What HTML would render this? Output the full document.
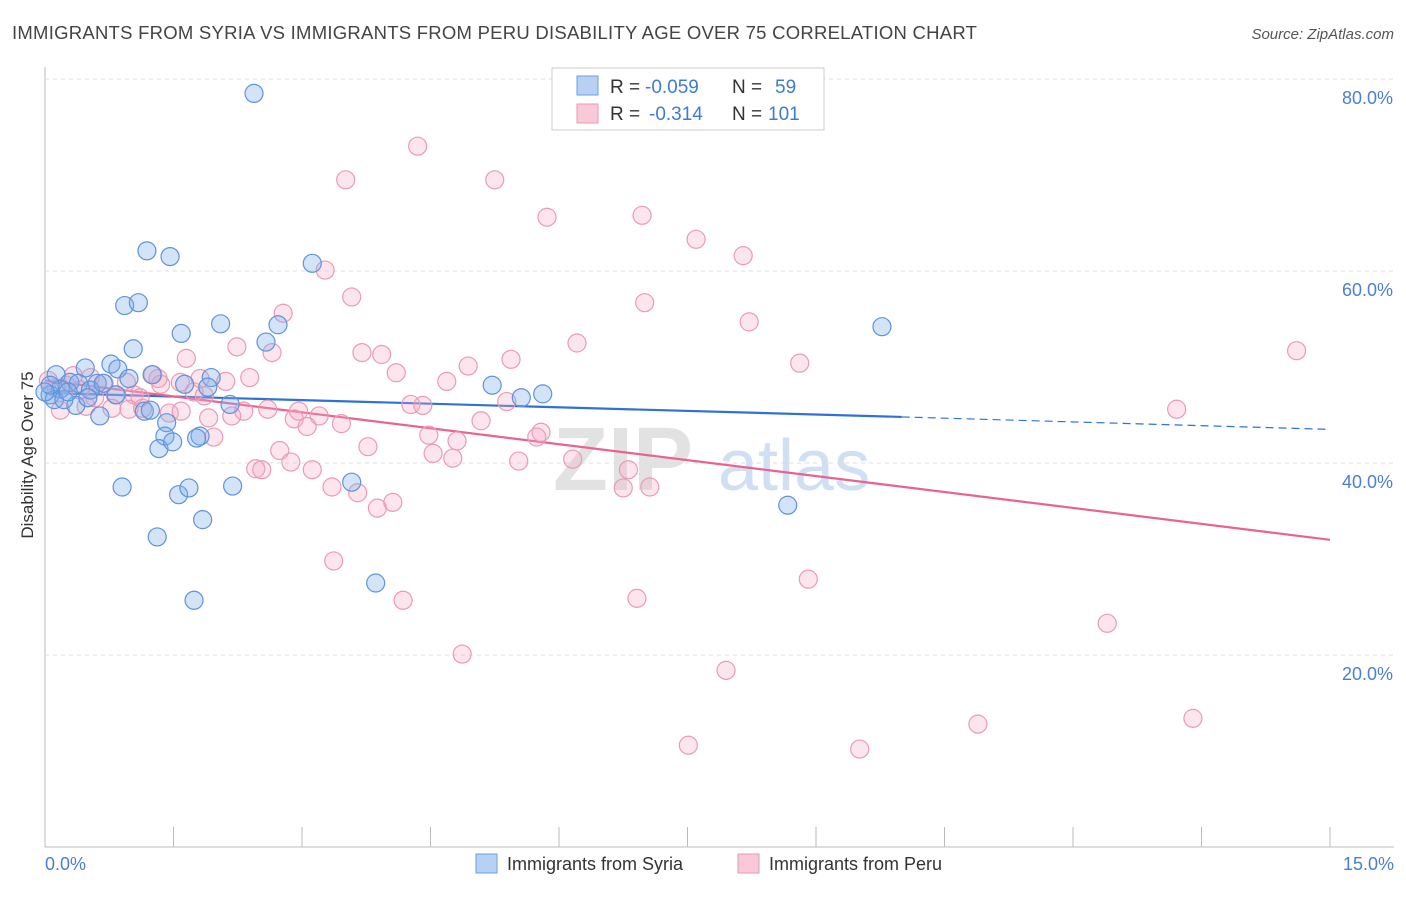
<!DOCTYPE html>
<html><head><meta charset="utf-8"><style>
body{margin:0;background:#fff;font-family:"Liberation Sans",sans-serif}
svg text{font-family:"Liberation Sans",sans-serif}
</style></head><body>
<svg id="chart" width="1406" height="892" xmlns="http://www.w3.org/2000/svg">
<text x="12" y="39" font-size="18.5" fill="#444" letter-spacing="0.25">IMMIGRANTS FROM SYRIA VS IMMIGRANTS FROM PERU DISABILITY AGE OVER 75 CORRELATION CHART</text>
<text x="1394" y="39" font-size="15" fill="#555" text-anchor="end" font-style="italic">Source: ZipAtlas.com</text>
<text transform="translate(33,455) rotate(-90)" font-size="17" fill="#333" text-anchor="middle">Disability Age Over 75</text>
<g>
<text x="553" y="490" font-size="90" fill="#e2e2e2" font-family="Liberation Serif,serif" font-weight="bold">ZIP</text>
<text x="718" y="490" font-size="72" fill="#cfe0f4">atlas</text>
</g>
<g id="grid"></g>
<g id="ticks"></g>
<g id="lines"></g>
<g id="pts"></g>
<g>
<rect x="552" y="68" width="272" height="62" fill="#fff" stroke="#ccc"/>
<rect x="577" y="76" width="21" height="19" fill="#b6d1f3" stroke="#6c9ee0"/>
<rect x="577" y="104" width="21" height="19" fill="#f9c9d8" stroke="#e898b2"/>
<text x="610" y="93" font-size="19" fill="#333">R =</text>
<text x="645" y="93" font-size="19" fill="#3e7bd6">-0.059</text>
<text x="732" y="93" font-size="19" fill="#333">N =</text>
<text x="775" y="93" font-size="19" fill="#3e7bd6">59</text>
<text x="610" y="120" font-size="19" fill="#333">R =</text>
<text x="649" y="120" font-size="19" fill="#3e7bd6">-0.314</text>
<text x="732" y="120" font-size="19" fill="#333">N =</text>
<text x="768" y="120" font-size="19" fill="#3e7bd6">101</text>
</g>
<g>
<rect x="476" y="854" width="21" height="19" fill="#b6d1f3" stroke="#6c9ee0"/>
<text x="507" y="870" font-size="18" fill="#333">Immigrants from Syria</text>
<rect x="738" y="854" width="21" height="19" fill="#f9c9d8" stroke="#e898b2"/>
<text x="769" y="870" font-size="18" fill="#333">Immigrants from Peru</text>
</g>
<text x="45" y="870" font-size="18" fill="#4a7fd0">0.0%</text>
<text x="1394" y="870" font-size="18" fill="#4a7fd0" text-anchor="end">15.0%</text>
</svg>
<script>
const yTicks=[20,40,60,80];
const yTickLabels=["20.0%","40.0%","60.0%","80.0%"];
const xTicks=[0,1.5,3,4.5,6,7.5,9,10.5,12,13.5,15];
const syriaX=[2.44,1.19,1.46,3.12,0.93,1.09,2.05,2.72,1.59,2.58,1.03,0.77,0.47,0.85,1.25,0.13,0.98,0.61,1.94,1.63,0.29,0.39,1.90,0.53,0.18,0.06,0.83,5.22,5.81,5.56,0.11,0.36,0.22,2.16,1.16,0.64,1.42,1.40,1.81,1.77,1.33,1.49,0.90,1.56,1.68,2.19,3.58,1.84,1.31,3.86,1.74,9.77,8.67,0.06,0.0,0.27,0.68,0.50,1.23];
const syriaY=[78.5,62.1,61.5,60.8,56.4,56.7,54.5,54.4,53.5,52.6,51.9,50.3,49.9,49.8,49.2,49.2,48.8,48.3,48.9,48.2,48.4,48.3,47.9,47.6,47.7,47.1,47.1,48.1,47.2,46.8,46.6,46.0,46.6,46.1,45.4,44.9,44.2,42.8,42.8,42.6,41.5,42.2,37.5,36.7,37.4,37.6,38.0,34.1,32.3,27.5,25.7,54.2,35.6,48.1,47.4,47.4,48.3,46.8,45.5];
const peruX=[4.35,3.51,5.25,5.86,6.97,7.60,8.15,3.27,3.58,2.78,7.00,8.22,2.24,6.21,1.65,2.65,3.70,3.93,4.94,5.44,8.81,14.61,4.10,2.39,4.69,1.26,1.58,0.95,0.69,1.35,2.11,1.74,1.86,0.41,0.25,0.13,0.04,1.04,0.82,4.27,4.41,5.39,13.21,0.48,0.98,1.45,1.14,1.59,2.32,1.91,2.18,2.60,2.91,2.96,3.20,3.46,5.09,5.79,5.74,4.48,4.81,3.06,1.97,3.77,4.53,4.76,5.53,6.16,2.74,2.87,2.46,2.53,3.12,6.81,3.35,3.65,3.88,4.06,6.75,7.06,3.37,8.91,4.18,6.91,4.87,12.40,7.95,10.89,13.40,7.51,9.51,0.18,0.58,0.33,0.53,1.11,0.78,1.81,1.32];
const peruY=[73.0,69.5,69.5,65.6,65.8,63.3,61.6,60.1,57.3,55.6,56.7,54.7,52.1,52.5,50.9,51.5,51.5,51.3,50.1,50.8,50.4,51.7,49.4,48.9,48.5,49.2,48.4,48.4,48.3,48.2,48.5,47.4,47.0,47.6,48.1,47.8,48.6,47.1,47.1,46.1,46.0,46.4,45.6,45.9,45.6,45.2,45.7,45.4,45.4,44.7,44.9,45.6,44.6,45.4,44.9,44.1,44.4,43.2,42.7,42.9,42.3,43.8,42.7,41.7,41.0,40.5,40.2,40.4,41.3,40.1,39.4,39.3,39.3,39.3,37.5,36.9,35.3,35.9,37.4,37.5,29.8,27.9,25.7,25.9,20.1,23.3,18.4,12.8,13.4,10.6,10.2,45.5,46.8,49.1,48.9,46.8,45.7,48.8,48.8];
const syriaTrend=[47.3,44.8,43.5];
const syriaTrendX=[0,10,15];
const peruTrend=[48.6,32.0];
const peruTrendX=[0,15];
const NS="http://www.w3.org/2000/svg";
const X0=45,X1=1330,Y0=847,Y80=79;
const sx=v=>X0+(v/15)*(X1-X0);
const sy=v=>Y0-(v/80)*(Y0-Y80);
function mk(tag,attrs,parent){const e=document.createElementNS(NS,tag);for(const k in attrs)e.setAttribute(k,attrs[k]);parent.appendChild(e);return e;}
const grid=document.getElementById('grid'),ticks=document.getElementById('ticks'),lines=document.getElementById('lines'),pts=document.getElementById('pts');
mk('line',{x1:45,y1:Y0-780,x2:45,y2:Y0,stroke:'#bbb'},grid);
mk('line',{x1:45,y1:Y0,x2:1394,y2:Y0,stroke:'#bbb'},grid);
yTicks.forEach((t,i)=>{
 const g=mk('line',{x1:45,y1:sy(t),x2:1394,y2:sy(t),stroke:'#ddd','stroke-dasharray':'4,4'},grid);
 
 
 const tx=mk('text',{x:1393,y:sy(t)+25,'font-size':18,fill:'#4a7fd0','text-anchor':'end'},ticks);
 tx.textContent=yTickLabels[i];
 
 
});
xTicks.forEach(t=>{
 const l=mk('line',{x1:sx(t),y1:Y0-20,x2:sx(t),y2:Y0,stroke:'#bbb'},ticks);
 
 
});
function addPts(xs,ys,fill,stroke,name){
 xs.forEach((x,i)=>{
  const c=mk('circle',{cx:sx(x),cy:sy(ys[i]),r:9,fill:fill,stroke:stroke,'stroke-width':1.2},pts);
  
  
 });
}
addPts(peruX,peruY,'rgba(245,170,195,0.3)','#eb9ab6','peru-point');
addPts(syriaX,syriaY,'rgba(130,175,235,0.35)','#5f93dc','syria-point');
const bl=mk('line',{x1:sx(syriaTrendX[0]),y1:sy(syriaTrend[0]),x2:sx(syriaTrendX[1]),y2:sy(syriaTrend[1]),stroke:'#2f72d6','stroke-width':2.2},lines);


const bd=mk('line',{x1:sx(syriaTrendX[1]),y1:sy(syriaTrend[1]),x2:sx(syriaTrendX[2]),y2:sy(syriaTrend[2]),stroke:'#2f72d6','stroke-width':1.2,'stroke-dasharray':'8,5'},lines);


const pl=mk('line',{x1:sx(peruTrendX[0]),y1:sy(peruTrend[0]),x2:sx(peruTrendX[1]),y2:sy(peruTrend[1]),stroke:'#e8648f','stroke-width':2.2},lines);


</script>
</body></html>
